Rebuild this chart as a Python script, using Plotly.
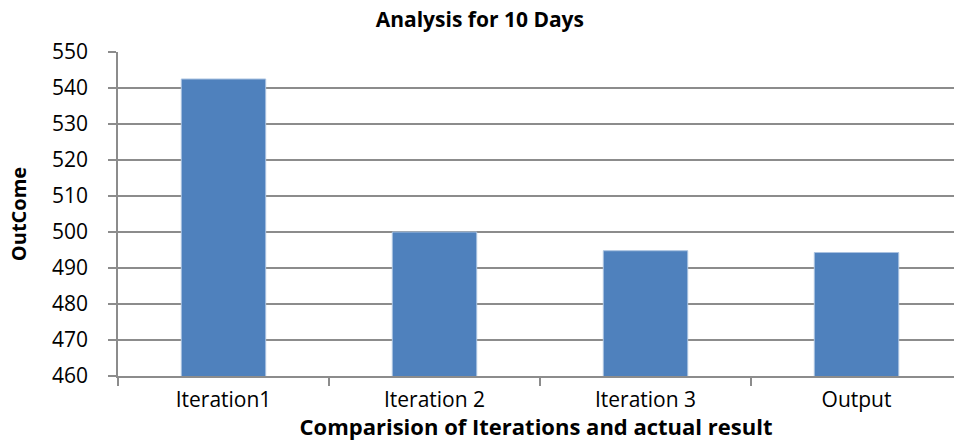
import plotly.graph_objects as go

# Outcome values for each iteration and the actual result
categories = ["Iteration1", "Iteration 2", "Iteration 3", "Output"]
outcomes = [542.5, 500.0, 494.8, 494.3]
y_ticks = [460, 470, 480, 490, 500, 510, 520, 530, 540, 550]

FONT = "'Open Sans', Lato, sans-serif"
GRID = "#8c8c8c"

fig = go.Figure(
    go.Bar(
        x=categories,
        y=outcomes,
        width=0.4,
        marker=dict(color="#4f81bd", line=dict(color="#a9c2e0", width=1)),
    )
)

fig.update_layout(
    width=954,
    height=441,
    margin=dict(l=118, r=0, t=52, b=65),
    paper_bgcolor="white",
    plot_bgcolor="white",
    showlegend=False,
    title=dict(
        text="<b>Analysis for 10 Days</b>",
        x=0.503,
        xref="container",
        xanchor="center",
        # title centre sits 20px below the top edge
        y=1 - 20 / 441,
        yref="container",
        yanchor="middle",
        font=dict(family=FONT, size=21, color="#000000"),
    ),
    font=dict(family=FONT, color="#000000"),
)

fig.update_xaxes(
    type="category",
    range=[-0.5, 3.462],
    showline=True,
    linecolor=GRID,
    linewidth=1.5,
    ticks="outside",
    tickson="boundaries",
    ticklen=8,
    tickcolor=GRID,
    tickwidth=1.5,
    ticklabelstandoff=4,
    tickfont=dict(family=FONT, size=21, color="#000000"),
    title=dict(
        text="<b>Comparision of Iterations and actual result</b>",
        font=dict(family=FONT, size=22, color="#000000"),
        standoff=0,
    ),
    showgrid=False,
)

fig.update_yaxes(
    range=[460, 550],
    tickvals=y_ticks,
    showline=True,
    linecolor=GRID,
    linewidth=1.5,
    ticks="outside",
    ticklen=8,
    tickcolor=GRID,
    tickwidth=1.5,
    ticklabelstandoff=16,
    showgrid=True,
    gridcolor=GRID,
    gridwidth=1.5,
    tickfont=dict(family=FONT, size=21, color="#000000"),
    title=dict(
        text="<b>OutCome</b>",
        font=dict(family=FONT, size=20, color="#000000"),
        standoff=20,
    ),
    zeroline=False,
)

fig.write_html("out.html")
